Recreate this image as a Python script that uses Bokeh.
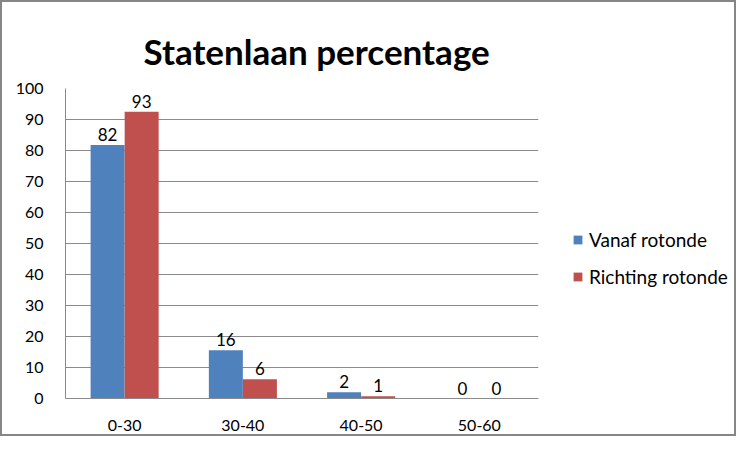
from bokeh.plotting import figure
from bokeh.layouts import row
from bokeh.models import FactorRange, ColumnDataSource, Legend, LegendItem, LabelSet, FixedTicker
from bokeh.transform import dodge
from bokeh.core.properties import value
from bokeh.embed import file_html
from bokeh.resources import INLINE

categories = ["0-30", "30-40", "40-50", "50-60"]
vanaf = [81.8, 15.6, 2.0, 0.0]
richting = [92.5, 6.2, 0.7, 0.0]
vanaf_labels = ["82", "16", "2", "0"]
richting_labels = ["93", "6", "1", "0"]
series_names = ["Vanaf rotonde", "Richting rotonde"]
y_ticks = [0, 10, 20, 30, 40, 50, 60, 70, 80, 90, 100]

FONT = "Lato"
BLUE = "#4F81BD"
RED = "#C0504D"
GRID = "#8a8a8a"

src = ColumnDataSource(dict(cat=categories, vanaf=vanaf, richting=richting,
                            vl=vanaf_labels, rl=richting_labels))

p = figure(width=540, height=432,
           x_range=FactorRange(*categories, range_padding=0),
           y_range=(0, 100), output_backend="svg", toolbar_location=None,
           min_border_left=63, min_border_right=4, min_border_top=86, min_border_bottom=36)

p.title.text = "Statenlaan percentage"
p.title.text_font = FONT
p.title.text_font_size = "35px"
p.title.text_font_style = "bold"
p.title.text_color = "black"
p.title.align = "left"
p.title.standoff = 33
p.title.offset = 78

w = 0.2875
off = 0.144
p.vbar(x=dodge("cat", -off, range=p.x_range), top="vanaf", width=w, source=src,
       fill_color=BLUE, line_color=None)
p.vbar(x=dodge("cat", off, range=p.x_range), top="richting", width=w, source=src,
       fill_color=RED, line_color=None)

for col, lab, dx in (("vanaf", "vl", -off), ("richting", "rl", off)):
    ls = LabelSet(x=dodge("cat", dx, range=p.x_range), y=col, text=lab, source=src,
                  text_align="center", text_baseline="bottom", y_offset=4,
                  text_font=value(FONT), text_font_size=value("17px"), text_color="black")
    p.add_layout(ls)

p.yaxis.ticker = FixedTicker(ticks=y_ticks)
p.yaxis.major_label_text_font = FONT
p.yaxis.major_label_text_font_size = "16px"
p.yaxis.major_label_text_color = "black"
p.yaxis.major_tick_line_color = None
p.yaxis.minor_tick_line_color = None
p.yaxis.axis_line_color = GRID
p.yaxis.major_label_standoff = 16

p.xaxis.major_label_text_font = FONT
p.xaxis.major_label_text_font_size = "16px"
p.xaxis.major_label_text_color = "black"
p.xaxis.major_tick_line_color = None
p.xaxis.axis_line_color = GRID
p.xaxis.major_label_standoff = 15

p.xgrid.grid_line_color = None
p.ygrid.grid_line_color = GRID
p.outline_line_color = None

# legend panel (swatch renderers sit outside the visible range)
p2 = figure(width=192, height=432, x_range=(0, 1), y_range=(0, 1),
            x_axis_type=None, y_axis_type=None, output_backend="svg",
            toolbar_location=None, min_border=0)
p2.grid.grid_line_color = None
p2.outline_line_color = None
lb = p2.vbar(x=[5], top=[5], bottom=[4], width=0.1, fill_color=BLUE, line_color=None)
lr = p2.vbar(x=[5], top=[5], bottom=[4], width=0.1, fill_color=RED, line_color=None)
legend = Legend(items=[LegendItem(label=series_names[0], renderers=[lb]),
                       LegendItem(label=series_names[1], renderers=[lr])],
                location=(30, 110), label_text_font=FONT, label_text_font_size="19px",
                label_text_color="black",
                glyph_width=11, glyph_height=11, spacing=14, border_line_color=None,
                background_fill_alpha=0, label_standoff=6, padding=0, margin=0)
p2.add_layout(legend)

layout = row(p, p2, spacing=0)
layout.styles = {"border": "2px solid #868686"}

open("out.html", "w").write(file_html(layout, INLINE))
